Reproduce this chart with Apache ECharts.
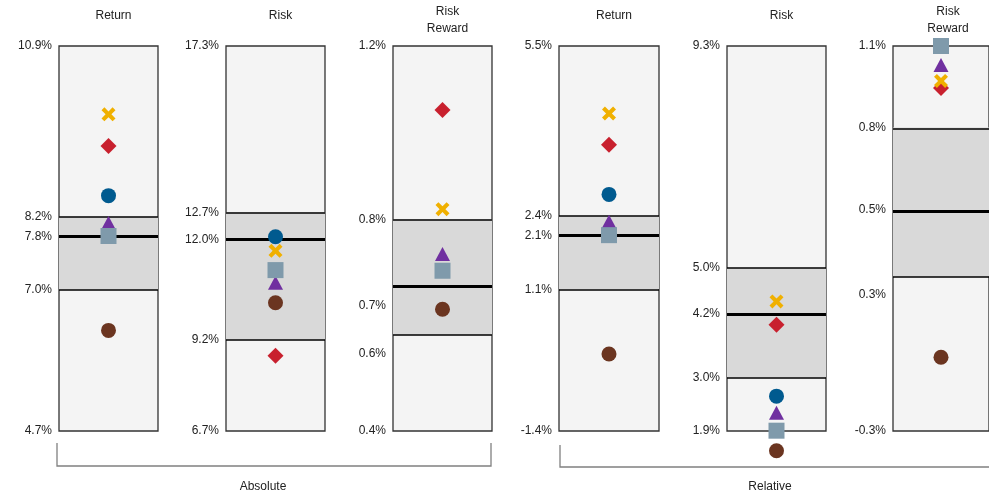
<!DOCTYPE html>
<html>
<head>
<meta charset="utf-8">
<script src="https://cdn.jsdelivr.net/npm/echarts@6/dist/echarts.min.js"></script>
<style>html,body{margin:0;padding:0;background:#fff}#c{width:989px;height:500px}</style>
</head>
<body>
<div id="c"></div>
<script>
// ---- data ----
const panelTitles = ['Return', 'Risk', 'Risk\nReward', 'Return', 'Risk', 'Risk\nReward'];
const groupNames = ['Absolute', 'Relative'];
const axisMin = [4.7, 6.7, 0.4, -1.4, 1.9, -0.3];
const axisMax = [10.9, 17.3, 1.2, 5.5, 9.3, 1.1];
const upperQ = [8.15, 12.72, 0.840, 2.45, 5.03, 0.804];
const medianV = [7.83, 11.98, 0.697, 2.10, 4.15, 0.504];
const lowerQ = [6.97, 9.21, 0.599, 1.14, 2.93, 0.261];
const tickPos = [
  [4.7, 6.97, 7.83, 8.15, 10.9],
  [6.7, 9.21, 11.98, 12.72, 17.3],
  [0.4, 0.56, 0.66, 0.84, 1.2],
  [-1.4, 1.14, 2.10, 2.45, 5.5],
  [1.9, 2.93, 4.15, 5.03, 9.3],
  [-0.3, 0.196, 0.504, 0.804, 1.1]
];
const tickText = [
  ['4.7%', '7.0%', '7.8%', '8.2%', '10.9%'],
  ['6.7%', '9.2%', '12.0%', '12.7%', '17.3%'],
  ['0.4%', '0.6%', '0.7%', '0.8%', '1.2%'],
  ['-1.4%', '1.1%', '2.1%', '2.4%', '5.5%'],
  ['1.9%', '3.0%', '4.2%', '5.0%', '9.3%'],
  ['-0.3%', '0.3%', '0.5%', '0.8%', '1.1%']
];
const diamondVals = [9.29, 8.77, 1.067, 3.73, 3.94, 0.947];
const crossVals   = [9.80, 11.66, 0.861, 4.29, 4.39, 0.973];
const circleVals  = [8.49, 12.05, null, 2.84, 2.57, null];
const triVals     = [8.05, 10.78, 0.768, 2.35, 2.25, 1.031];
const squareVals  = [7.84, 11.13, 0.733, 2.11, 1.906, 1.10];
const brownVals   = [6.32, 10.23, 0.653, -0.02, 1.52, -0.032];

// ---- layout / style ----
const gridLeft = [59, 226, 393, 559, 727, 893];
const gridW = [99, 99, 99, 100, 99, 100];
const gridTop = 46, gridH = 385;
const FONT = 'Liberation Sans, Arial, sans-serif';
const crossPath = 'path://M0,2.5 L2.5,0 L6,3.5 L9.5,0 L12,2.5 L8.5,6 L12,9.5 L9.5,12 L6,8.5 L2.5,12 L0,9.5 L3.5,6 Z';

const markerDefs = [
  {name: 'Diamond', vals: diamondVals, symbol: 'diamond', size: [16, 16], color: '#c8202e'},
  {name: 'Cross', vals: crossVals, symbol: crossPath, size: [14, 14], color: '#f0b000'},
  {name: 'Circle', vals: circleVals, symbol: 'circle', size: 15, color: '#005a8f'},
  {name: 'Triangle', vals: triVals, symbol: 'triangle', size: [15, 14], color: '#7030a0'},
  {name: 'Square', vals: squareVals, symbol: 'rect', size: 16, color: '#7f9aab'},
  {name: 'Brown', vals: brownVals, symbol: 'circle', size: 15, color: '#6b3520'}
];

const grids = [], xAxes = [], yAxes = [], series = [], titles = [];
for (let p = 0; p < 6; p++) {
  grids.push({left: gridLeft[p], top: gridTop, width: gridW[p], height: gridH, show: true,
    backgroundColor: '#f4f4f4', borderColor: '#333', borderWidth: 1.3, containLabel: false});
  xAxes.push({gridIndex: p, type: 'value', min: 0, max: 1, show: false});
  yAxes.push({gridIndex: p, type: 'value', min: axisMin[p], max: axisMax[p],
    axisLine: {show: false}, axisTick: {show: false}, splitLine: {show: false},
    axisLabel: {customValues: tickPos[p], margin: 7, fontSize: 12, color: '#222', fontFamily: FONT,
      formatter: (function (pp) { return function (v) {
        let best = 0, bd = Infinity;
        tickPos[pp].forEach(function (t, i) { const d = Math.abs(t - v); if (d < bd) { bd = d; best = i; } });
        return tickText[pp][best];
      }; })(p)
    }});
  // box: IQR area and lines
  series.push({type: 'line', xAxisIndex: p, yAxisIndex: p, data: [], silent: true,
    markArea: {silent: true, itemStyle: {color: '#d9d9d9'}, data: [[{yAxis: lowerQ[p]}, {yAxis: upperQ[p]}]]},
    markLine: {silent: true, symbol: 'none', label: {show: false}, animation: false,
      data: [
        {yAxis: upperQ[p], lineStyle: {color: '#000', width: 1.5, type: 'solid'}},
        {yAxis: lowerQ[p], lineStyle: {color: '#000', width: 1.5, type: 'solid'}},
        {yAxis: medianV[p], lineStyle: {color: '#000', width: 3, type: 'solid'}}
      ]}
  });
  markerDefs.forEach(function (m) {
    const v = m.vals[p];
    series.push({type: 'scatter', name: m.name, xAxisIndex: p, yAxisIndex: p, clip: false, z: 5,
      symbol: m.symbol, symbolSize: m.size, itemStyle: {color: m.color, opacity: 1},
      data: v == null ? [] : [[0.5, v]]});
  });
  const two = panelTitles[p].indexOf('\n') >= 0;
  titles.push({text: panelTitles[p], left: gridLeft[p] + gridW[p] / 2, top: two ? -2 : 2, textAlign: 'center',
    textStyle: {fontSize: 12, fontWeight: 'normal', color: '#222', fontFamily: FONT, lineHeight: 17}});
}

const chart = echarts.init(document.getElementById('c'));
chart.setOption({
  animation: false,
  title: titles,
  grid: grids, xAxis: xAxes, yAxis: yAxes, series: series,
  graphic: [
    {type: 'polyline', shape: {points: [[57, 443], [57, 466], [491, 466], [491, 443]]}, style: {stroke: '#808080', lineWidth: 1.3, fill: null}},
    {type: 'polyline', shape: {points: [[560, 445], [560, 467], [995, 467]]}, style: {stroke: '#808080', lineWidth: 1.3, fill: null}},
    {type: 'text', x: 263, y: 487, style: {text: groupNames[0], fontSize: 12, fill: '#222', fontFamily: FONT, align: 'center', verticalAlign: 'middle'}},
    {type: 'text', x: 770, y: 487, style: {text: groupNames[1], fontSize: 12, fill: '#222', fontFamily: FONT, align: 'center', verticalAlign: 'middle'}}
  ]
});
</script>
</body>
</html>
